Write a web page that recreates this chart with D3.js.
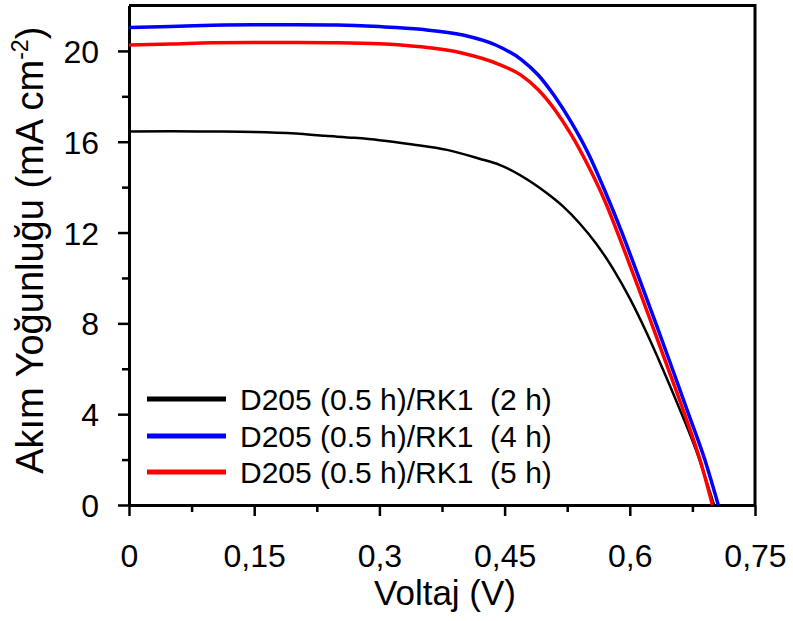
<!DOCTYPE html>
<html>
<head>
<meta charset="utf-8">
<script src="https://cdn.jsdelivr.net/npm/d3@7"></script>
<style>
  html, body { margin: 0; padding: 0; background: #fff; }
  svg { display: block; font-family: "Liberation Sans", Arial, sans-serif; }
</style>
</head>
<body>
<svg id="chart" width="793" height="621"></svg>
<script>
// ---- data ----
const seriesNames = ["D205 (0.5 h)/RK1  (2 h)", "D205 (0.5 h)/RK1  (4 h)", "D205 (0.5 h)/RK1  (5 h)"];
const seriesColors = ["#000000", "#0000ff", "#ff0000"];

const voltage2h = [0, 0.05, 0.10, 0.15, 0.20, 0.235, 0.27, 0.30, 0.34, 0.381, 0.42, 0.444, 0.484, 0.50, 0.52, 0.54, 0.56, 0.58, 0.60, 0.62, 0.64, 0.66, 0.68, 0.701];
const current2h = [16.45, 16.46, 16.45, 16.43, 16.36, 16.26, 16.17, 16.07, 15.88, 15.64, 15.25, 14.98, 14.17, 13.75, 13.15, 12.4, 11.5, 10.4, 9.1, 7.6, 5.95, 4.2, 2.35, 0];

const voltage4h = [0, 0.05, 0.10, 0.15, 0.20, 0.25, 0.30, 0.35, 0.40, 0.44, 0.47, 0.49, 0.51, 0.53, 0.55, 0.57, 0.59, 0.61, 0.63, 0.65, 0.67, 0.69, 0.706];
const current4h = [21.03, 21.08, 21.13, 21.15, 21.15, 21.14, 21.07, 20.95, 20.7, 20.25, 19.62, 18.95, 18.0, 16.85, 15.5, 13.85, 12.05, 10.1, 8.12, 6.1, 4.05, 1.98, 0];

const voltage5h = [0, 0.05, 0.10, 0.15, 0.20, 0.25, 0.30, 0.35, 0.40, 0.444, 0.47, 0.49, 0.51, 0.53, 0.55, 0.57, 0.59, 0.61, 0.63, 0.65, 0.67, 0.684, 0.699];
const current5h = [20.26, 20.3, 20.36, 20.37, 20.37, 20.36, 20.32, 20.18, 19.9, 19.4, 18.92, 18.3, 17.42, 16.3, 14.95, 13.4, 11.55, 9.6, 7.6, 5.6, 3.55, 2.0, 0];

const xTickValues = [0, 0.15, 0.3, 0.45, 0.6, 0.75];
const xTickLabels = ["0", "0,15", "0,3", "0,45", "0,6", "0,75"];
const xMinorTicks = [0.075, 0.225, 0.375, 0.525, 0.675];
const yTickValues = [0, 4, 8, 12, 16, 20];
const yMinorTicks = [2, 6, 10, 14, 18];
const xTitle = "Voltaj (V)";
const yTitle = "Akım Yoğunluğu (mA cm";

// ---- layout ----
const margin = { left: 129, top: 5.5, right: 38, bottom: 116 };
const W = 793, H = 621;
const iw = W - margin.left - margin.right;
const ih = H - margin.top - margin.bottom;

const svg = d3.select("#chart");
const g = svg.append("g").attr("transform", `translate(${margin.left},${margin.top})`);

const x = d3.scaleLinear().domain([0, 0.75]).range([0, iw]);
const y = d3.scaleLinear().domain([0, 22]).range([ih, 0]);

// frame (top & right)
g.append("path")
  .attr("d", `M0,0H${iw}V${ih}`)
  .attr("fill", "none").attr("stroke", "#000").attr("stroke-width", 3);

// x axis
const xAxis = g.append("g").attr("transform", `translate(0,${ih})`)
  .call(d3.axisBottom(x).tickValues(xTickValues).tickFormat((d, i) => xTickLabels[i]).tickSize(11).tickSizeOuter(0));
const xMinor = g.append("g").attr("transform", `translate(0,${ih})`)
  .call(d3.axisBottom(x).tickValues(xMinorTicks).tickFormat("").tickSize(7).tickSizeOuter(0));

// y axis
const yAxis = g.append("g")
  .call(d3.axisLeft(y).tickValues(yTickValues).tickSize(11).tickSizeOuter(0));
const yMinor = g.append("g")
  .call(d3.axisLeft(y).tickValues(yMinorTicks).tickFormat("").tickSize(7).tickSizeOuter(0));

[xAxis, xMinor, yAxis, yMinor].forEach(a => {
  a.select(".domain").attr("stroke", "#000").attr("stroke-width", 3);
  a.selectAll(".tick line").attr("stroke", "#000").attr("stroke-width", 2.5);
});
xAxis.selectAll(".tick text")
  .attr("font-size", 32).attr("fill", "#000")
  .attr("y", 0).attr("dy", 0)
  .attr("transform", "translate(0,62)");
yAxis.selectAll(".tick text")
  .attr("font-size", 32).attr("fill", "#000")
  .attr("x", -30).attr("dy", "0.36em");

// axis titles
svg.append("text")
  .attr("x", margin.left + iw / 2 + 3).attr("y", 605)
  .attr("text-anchor", "middle").attr("font-size", 35).attr("fill", "#000")
  .text(xTitle);

const yt = svg.append("text")
  .attr("transform", `translate(43,${margin.top + ih / 2 - 5}) rotate(-90)`)
  .attr("text-anchor", "middle").attr("font-size", 38).attr("fill", "#000");
yt.append("tspan").text(yTitle);
yt.append("tspan").attr("font-size", 23).attr("dy", -15).text("-2");
yt.append("tspan").attr("dy", 15).text(")");

// curves
const allSeries = [
  { v: voltage2h, j: current2h, w: 2.5 },
  { v: voltage4h, j: current4h, w: 3.5 },
  { v: voltage5h, j: current5h, w: 3.5 }
];
const line = d3.line().x(d => x(d[0])).y(d => y(d[1])).curve(d3.curveMonotoneX);
allSeries.forEach((s, i) => {
  const pts = s.v.map((v, k) => [v, s.j[k]]);
  g.append("path").datum(pts)
    .attr("d", line)
    .attr("fill", "none")
    .attr("stroke", seriesColors[i])
    .attr("stroke-width", s.w)
    .attr("stroke-linejoin", "round");
});

// legend
const legendRows = [399, 436, 472];
seriesNames.forEach((name, i) => {
  svg.append("line")
    .attr("x1", 147).attr("x2", 226)
    .attr("y1", legendRows[i]).attr("y2", legendRows[i])
    .attr("stroke", seriesColors[i]).attr("stroke-width", 5);
  svg.append("text")
    .attr("x", 240).attr("y", legendRows[i] + 11)
    .attr("font-size", 30).attr("fill", "#000")
    .attr("xml:space", "preserve").style("white-space", "pre")
    .text(name);
});
</script>
</body>
</html>
